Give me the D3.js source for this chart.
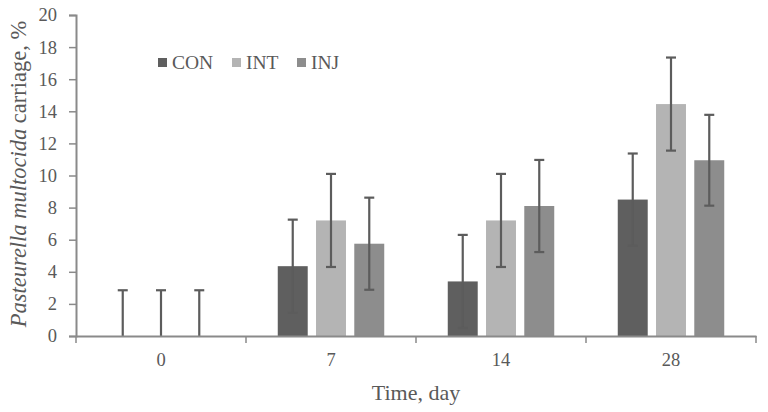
<!DOCTYPE html>
<html><head><meta charset="utf-8">
<script src="https://cdn.jsdelivr.net/npm/d3@7"></script>
<style>body{margin:0;background:#fff}svg{display:block}</style>
</head><body>
<svg id="c" width="768" height="412"></svg>
<script>
const categories = ["0", "7", "14", "28"];
const seriesNames = ["CON", "INT", "INJ"];
const conValues = [0, 4.35, 3.4, 8.5];
const intValues = [0, 7.2, 7.2, 14.45];
const injValues = [0, 5.75, 8.1, 10.95];
const conErr = [2.85, 2.9, 2.9, 2.87];
const intErr = [2.85, 2.9, 2.9, 2.9];
const injErr = [2.85, 2.87, 2.87, 2.83];
const yTicks = [0, 2, 4, 6, 8, 10, 12, 14, 16, 18, 20];

const colors = {CON: "#5f5f5f", INT: "#b4b4b4", INJ: "#8d8d8d"};
const values = {CON: conValues, INT: intValues, INJ: injValues};
const errs = {CON: conErr, INT: intErr, INJ: injErr};

const svg = d3.select("#c");
const L = 76, R = 756, T = 15, B = 336;
const x = d3.scaleBand().domain(categories).range([L, R]).paddingInner(0).paddingOuter(0);
const xs = d3.scaleBand().domain(seriesNames).range([0, x.bandwidth()]).paddingInner(0.217).paddingOuter(0.83);
const y = d3.scaleLinear().domain([0, 20]).range([B, T]);
const axisColor = "#8a8a8a";
const textColor = "#595959";
const font = "'Liberation Serif', 'Times New Roman', serif";

// bars
const data = [];
categories.forEach((c, i) => seriesNames.forEach(s => data.push({c, s, v: values[s][i], e: errs[s][i]})));
svg.append("g").selectAll("rect").data(data).join("rect")
  .attr("x", d => x(d.c) + xs(d.s))
  .attr("width", xs.bandwidth())
  .attr("y", d => y(d.v))
  .attr("height", d => y(0) - y(d.v))
  .attr("fill", d => colors[d.s]);

// error bars
const eg = svg.append("g").attr("stroke", "#5c5c5c").attr("stroke-width", 2.2);
data.forEach(d => {
  const cx = x(d.c) + xs(d.s) + xs.bandwidth() / 2;
  const lo = Math.max(0, d.v - d.e), hi = d.v + d.e;
  eg.append("line").attr("x1", cx).attr("x2", cx).attr("y1", y(lo)).attr("y2", y(hi));
  eg.append("line").attr("x1", cx - 5).attr("x2", cx + 5).attr("y1", y(hi)).attr("y2", y(hi));
  if (d.v > 0) eg.append("line").attr("x1", cx - 5).attr("x2", cx + 5).attr("y1", y(lo)).attr("y2", y(lo));
});

// y axis
const ya = svg.append("g").attr("transform", `translate(${L},0)`)
  .call(d3.axisLeft(y).tickValues(yTicks).tickSize(7).tickPadding(12));
ya.select(".domain").attr("stroke", axisColor).attr("stroke-width", 2);
ya.selectAll(".tick line").attr("stroke", axisColor).attr("stroke-width", 1.5);
ya.selectAll(".tick text").attr("fill", textColor).attr("font-family", font).attr("font-size", 18.5);

// x axis
const xa = svg.append("g").attr("transform", `translate(0,${B})`)
  .call(d3.axisBottom(x).tickSize(0).tickPadding(17));
xa.select(".domain").attr("stroke", axisColor).attr("stroke-width", 2);
xa.selectAll(".tick text").attr("fill", textColor).attr("font-family", font).attr("font-size", 18.5);
const bounds = [L, ...categories.map(c => x(c) + x.bandwidth())];
svg.append("g").selectAll("line").data(bounds).join("line")
  .attr("x1", d => d).attr("x2", d => d).attr("y1", B).attr("y2", B + 7)
  .attr("stroke", axisColor).attr("stroke-width", 1.5);

// axis titles
svg.append("text").attr("x", 416).attr("y", 400).attr("text-anchor", "middle")
  .attr("fill", textColor).attr("font-family", font).attr("font-size", 22).text("Time, day");
const yt = svg.append("text").attr("transform", "translate(26,174) rotate(-90)").attr("text-anchor", "middle")
  .attr("fill", textColor).attr("font-family", font).attr("font-size", 22.5);
yt.append("tspan").attr("font-style", "italic").text("Pasteurella multocida");
yt.append("tspan").text(" carriage, %");

// legend
const legendX = [158, 232, 297];
const lg = svg.append("g");
seriesNames.forEach((s, i) => {
  lg.append("rect").attr("x", legendX[i]).attr("y", 58).attr("width", 9).attr("height", 9).attr("fill", colors[s]);
  lg.append("text").attr("x", legendX[i] + 14).attr("y", 69).attr("fill", textColor)
    .attr("font-family", font).attr("font-size", 19.5).text(s);
});
</script>
</body></html>
